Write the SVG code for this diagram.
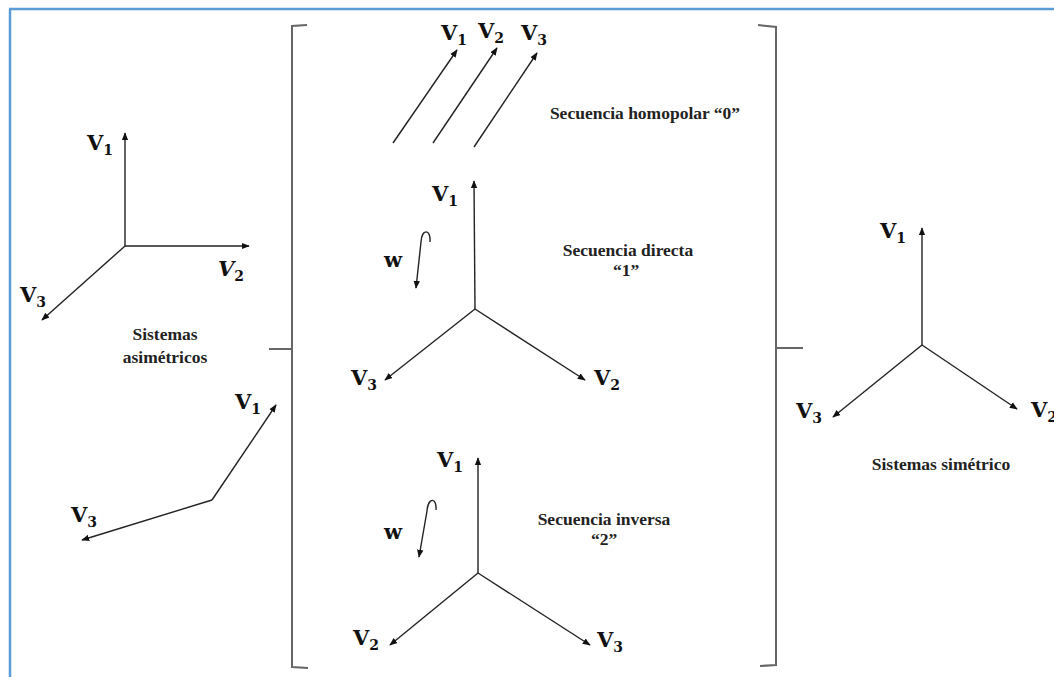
<svg xmlns="http://www.w3.org/2000/svg" width="1054" height="677" viewBox="0 0 1054 677">
  <style>
    .vec { stroke: #222; stroke-width: 1.4; fill: none; marker-end: url(#head); }
    .brk { stroke: #666; stroke-width: 2; fill: none; }
    .lbl { font-family: "DejaVu Serif", "Liberation Serif", serif; font-weight: bold; font-size: 21px; fill: #111; }
    .sub { font-size: 14px; }
    .cap { font-family: "Liberation Serif", serif; font-weight: bold; font-size: 17.5px; fill: #222; }
  </style>
  <defs>
    <marker id="head" viewBox="0 0 10 10" refX="9" refY="5" markerWidth="8" markerHeight="8" markerUnits="userSpaceOnUse" orient="auto">
      <path d="M0,1 L10,5 L0,9 z" fill="#111"/>
    </marker>
  </defs>
  <rect width="1054" height="677" fill="#fff"/>
  <!-- frame edges -->
  <line x1="10" y1="9" x2="10" y2="677" stroke="#5b9bd5" stroke-width="2.5"/>
  <line x1="9" y1="9" x2="1054" y2="9" stroke="#5b9bd5" stroke-width="2.5"/>

  <!-- braces -->
  <g id="brace-left">
    <path class="brk" d="M307,25 L292,26 L292,667 L308,668"/>
    <path class="brk" d="M269,349 L292,349"/>
  </g>
  <g id="brace-right">
    <path class="brk" d="M758,25 L776,27 L776,665 L760,666"/>
    <path class="brk" d="M776,348 L803,348"/>
  </g>

  <g id="connectors">
    <!-- asymmetric system, top -->
    <line class="vec" x1="125" y1="246" x2="125" y2="133"/>
    <line class="vec" x1="125" y1="246" x2="249" y2="246"/>
    <line class="vec" x1="125" y1="246" x2="42" y2="320"/>
    <!-- asymmetric system, bottom -->
    <line class="vec" x1="212" y1="500" x2="276" y2="405"/>
    <line class="vec" x1="212" y1="500" x2="82" y2="540"/>
    <!-- zero sequence -->
    <line class="vec" x1="393" y1="143" x2="457" y2="50"/>
    <line class="vec" x1="433" y1="143" x2="497" y2="48"/>
    <line class="vec" x1="474" y1="147" x2="537" y2="53"/>
    <!-- positive sequence -->
    <line class="vec" x1="475" y1="309" x2="474" y2="181"/>
    <line class="vec" x1="475" y1="309" x2="585" y2="380"/>
    <line class="vec" x1="475" y1="309" x2="385" y2="380"/>
    <path class="vec" d="M430,242 C431,229 422,228 421,242 L416,288"/>
    <!-- negative sequence -->
    <line class="vec" x1="478" y1="573" x2="478" y2="458"/>
    <line class="vec" x1="478" y1="573" x2="390" y2="645"/>
    <line class="vec" x1="478" y1="573" x2="590" y2="645"/>
    <path class="vec" d="M436,510 C437,497 428,497 427,511 L419,557"/>
    <!-- symmetric system -->
    <line class="vec" x1="922" y1="345" x2="922" y2="228"/>
    <line class="vec" x1="922" y1="345" x2="833" y2="417"/>
    <line class="vec" x1="922" y1="345" x2="1017" y2="409"/>
  </g>

  <g id="asym-top">
    <text class="lbl" x="87" y="150">V<tspan class="sub" dy="5">1</tspan></text>
    <text class="lbl" x="218" y="276" font-style="italic">V<tspan class="sub" dy="5" font-style="normal">2</tspan></text>
    <text class="lbl" x="20" y="302">V<tspan class="sub" dy="5">3</tspan></text>
  </g>
  <g id="asym-caption">
    <text class="cap" x="165" y="340" text-anchor="middle">Sistemas</text>
    <text class="cap" x="165" y="363" text-anchor="middle">asimétricos</text>
  </g>
  <g id="asym-bottom">
    <text class="lbl" x="235" y="409">V<tspan class="sub" dy="5">1</tspan></text>
    <text class="lbl" x="71" y="522">V<tspan class="sub" dy="5">3</tspan></text>
  </g>

  <g id="seq-zero">
    <text class="lbl" x="441" y="40">V<tspan class="sub" dy="5">1</tspan></text>
    <text class="lbl" x="478" y="38">V<tspan class="sub" dy="5">2</tspan></text>
    <text class="lbl" x="521" y="40">V<tspan class="sub" dy="5">3</tspan></text>
    <text class="cap" x="645" y="119" text-anchor="middle">Secuencia homopolar “0”</text>
  </g>

  <g id="seq-positive">
    <text class="lbl" x="432" y="201">V<tspan class="sub" dy="5">1</tspan></text>
    <text class="lbl" x="351" y="385">V<tspan class="sub" dy="5">3</tspan></text>
    <text class="lbl" x="594" y="385">V<tspan class="sub" dy="5">2</tspan></text>
    <text class="lbl" x="384" y="267" font-size="19">w</text>
    <text class="cap" x="628" y="256" text-anchor="middle">Secuencia directa</text>
    <text class="cap" x="626" y="276" text-anchor="middle">“1”</text>
  </g>

  <g id="seq-negative">
    <text class="lbl" x="437" y="467">V<tspan class="sub" dy="5">1</tspan></text>
    <text class="lbl" x="353" y="645">V<tspan class="sub" dy="5">2</tspan></text>
    <text class="lbl" x="597" y="647">V<tspan class="sub" dy="5">3</tspan></text>
    <text class="lbl" x="384" y="539" font-size="19">w</text>
    <text class="cap" x="604" y="525" text-anchor="middle">Secuencia inversa</text>
    <text class="cap" x="604" y="545" text-anchor="middle">“2”</text>
  </g>

  <g id="sym">
    <text class="lbl" x="880" y="238">V<tspan class="sub" dy="5">1</tspan></text>
    <text class="lbl" x="796" y="418">V<tspan class="sub" dy="5">3</tspan></text>
    <text class="lbl" x="1031" y="417">V<tspan class="sub" dy="5">2</tspan></text>
    <text class="cap" x="941" y="470" text-anchor="middle">Sistemas simétrico</text>
  </g>
</svg>
